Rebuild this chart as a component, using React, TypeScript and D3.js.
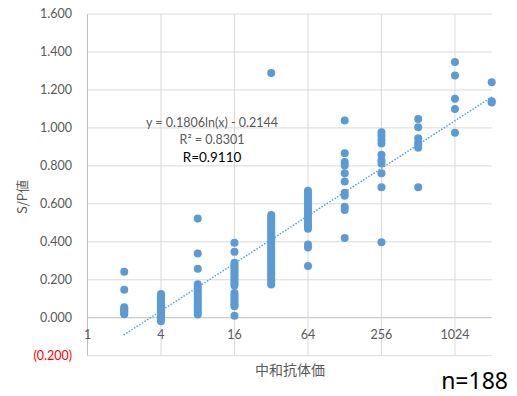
import React from 'react';
import * as d3 from 'd3';

// 中和抗体価 (x) と S/P値 (y) — columns of points per titer
const titers = [2, 4, 8, 16, 32, 64, 128, 256, 512, 1024, 2048];
const spValues: number[][] = [
  [0.242, 0.148, 0.055, 0.048, 0.04, 0.033, 0.025, 0.018],
  [0.125, 0.112, 0.1, 0.088, 0.077, 0.066, 0.055, 0.045, 0.034, 0.022, 0.012, 0.002, -0.008, -0.018],
  [0.523, 0.339, 0.258, 0.177, 0.165, 0.152, 0.14, 0.128, 0.115, 0.102, 0.09, 0.078, 0.066, 0.054, 0.042, 0.03, 0.017],
  [0.395, 0.347, 0.29, 0.278, 0.266, 0.254, 0.242, 0.23, 0.218, 0.206, 0.194, 0.182, 0.17, 0.13, 0.118, 0.105, 0.093, 0.08, 0.068, 0.06, 0.01],
  [1.289, 0.541, 0.53, 0.519, 0.507, 0.496, 0.484, 0.472, 0.461, 0.449, 0.437, 0.425, 0.413, 0.401, 0.39, 0.378, 0.366, 0.354, 0.342, 0.33, 0.318, 0.306, 0.294, 0.282, 0.27, 0.258, 0.246, 0.234, 0.222, 0.21, 0.198, 0.186, 0.175],
  [0.669, 0.652, 0.636, 0.62, 0.604, 0.588, 0.572, 0.556, 0.54, 0.524, 0.508, 0.492, 0.48, 0.469, 0.386, 0.37, 0.272],
  [1.039, 0.866, 0.82, 0.802, 0.761, 0.717, 0.659, 0.643, 0.585, 0.567, 0.42],
  [0.977, 0.958, 0.937, 0.918, 0.858, 0.83, 0.812, 0.761, 0.687, 0.397],
  [1.047, 1.004, 0.946, 0.923, 0.91, 0.896, 0.687],
  [1.347, 1.276, 1.153, 1.099, 0.975],
  [1.241, 1.14, 1.134],
];
const xTicks = [1, 4, 16, 64, 256, 1024];
const yTicks = [1.6, 1.4, 1.2, 1.0, 0.8, 0.6, 0.4, 0.2, 0.0, -0.2];
const trend = { a: 0.1806, b: -0.2144 };
const equationLines = ['y = 0.1806ln(x) - 0.2144', 'R² = 0.8301', 'R=0.9110'];

const W = 517;
const H = 396;
const blue = '#5b9bd5';
const grid = '#d9d9d9';
const gray = '#595959';
const font = 'Lato, "Noto Sans", sans-serif';

export default function App() {
  const x = d3.scaleLog().base(2).domain([1, 2048]).range([87.5, 491.7]);
  const y = d3.scaleLinear().domain([-0.2, 1.6]).range([355.7, 14]);

  const points = titers.flatMap((t, i) => spValues[i].map(v => ({ t, v })));

  const trendXs = d3.range(0, 201).map(k => 2 * Math.pow(1024, k / 200));
  const trendLine = d3.line<number>()
    .x(d => x(d))
    .y(d => y(trend.a * Math.log(d) + trend.b))(trendXs);

  const fmt = (v: number) => v < 0 ? `(${d3.format('.3f')(-v)})` : d3.format('.3f')(v);

  return (
    <svg width={W} height={H} style={{ position: 'absolute', left: 0, top: 0, background: '#fff' }}>
      <rect width={W} height={H} fill="#fff" />
      {yTicks.map(v => (
        <line key={'h' + v} x1={x(1)} x2={x(2048)} y1={y(v)} y2={y(v)} stroke={v === 0 ? '#bfbfbf' : grid} strokeWidth={1} />
      ))}
      {xTicks.map(t => (
        <line key={'v' + t} x1={x(t)} x2={x(t)} y1={y(1.6)} y2={y(-0.2)} stroke={t === 1 ? '#bfbfbf' : grid} strokeWidth={1} />
      ))}
      {yTicks.map(v => (
        <text key={'yl' + v} x={72} y={y(v)} dy="0.35em" textAnchor="end" fontFamily={font} fontSize={12.5}
          fill={v < 0 ? '#ff0000' : gray}>{fmt(v)}</text>
      ))}
      {xTicks.map(t => (
        <text key={'xl' + t} x={x(t)} y={335} dy="0.35em" textAnchor="middle" fontFamily={font} fontSize={12.5} fill={gray}>{t}</text>
      ))}
      {points.map((p, i) => (
        <circle key={i} cx={x(p.t)} cy={y(p.v)} r={4} fill={blue} />
      ))}
      <path d={trendLine ?? ''} fill="none" stroke={blue} strokeWidth={1.6} strokeDasharray="0.1 3" strokeLinecap="round" />
      <text x={212} y={123} dy="0.35em" textAnchor="middle" fontFamily={font} fontSize={12.5} fill={gray}>{equationLines[0]}</text>
      <text x={212} y={140} dy="0.35em" textAnchor="middle" fontFamily={font} fontSize={12.5} fill={gray}>{equationLines[1]}</text>
      <text x={212} y={157} dy="0.35em" textAnchor="middle" fontFamily={font} fontSize={13.5} fill="#000">{equationLines[2]}</text>
      <text transform="translate(22,197) rotate(-90)" dy="0.35em" textAnchor="middle" fontFamily='"Noto Sans CJK JP", sans-serif' fontSize={13} fill={gray}>S/P値</text>
      <text x={290} y={370} dy="0.35em" textAnchor="middle" fontFamily='"Noto Sans CJK JP", sans-serif' fontSize={14} fill={gray}>中和抗体価</text>
      <text x={508} y={389} textAnchor="end" fontFamily='"Noto Sans", sans-serif' fontSize={23} fill="#000">n=188</text>
    </svg>
  );
}
